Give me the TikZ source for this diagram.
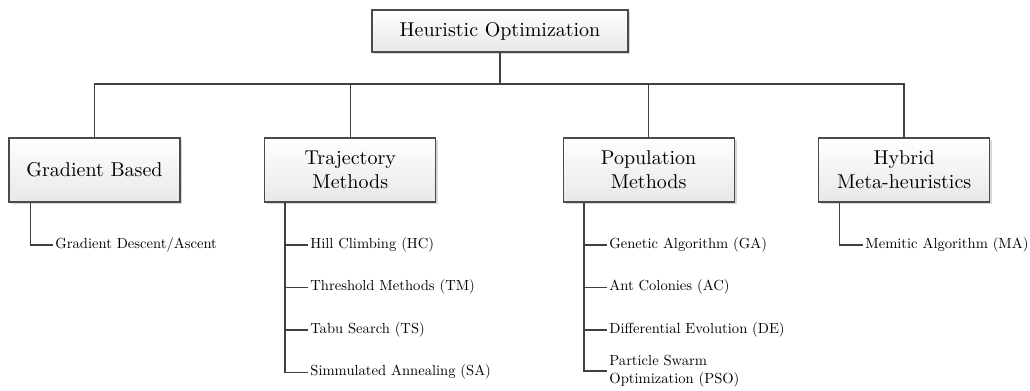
\documentclass[tikz,border=0pt]{standalone}
\usepackage{fontspec}
\usetikzlibrary{shadows}
% small labels keep the 10pt design of Latin Modern, only scaled down
\newfontfamily\itemfont{lmroman10-regular.otf}
\definecolor{linegray}{HTML}{404040}
\definecolor{boxline}{HTML}{4A4A4A}
\begin{document}
\begin{tikzpicture}[x=0.5pt,y=-0.5pt,
  box/.style={draw=boxline, line width=0.6pt, top color=white, bottom color=black!9,
    drop shadow={shadow xshift=1.2pt, shadow yshift=-1.2pt, fill=black!30, opacity=0.5},
    align=center, inner sep=2pt, font=\fontsize{10}{12}\selectfont},
  rootbox/.style={box, minimum width=128pt, minimum height=21pt},
  catbox/.style={box, minimum width=85.5pt, minimum height=32pt},
  item/.style={anchor=west, inner sep=1pt, align=left, font=\itemfont\fontsize{7.3}{9}\selectfont},
  link/.style={draw=linegray, line width=0.75pt}]
\useasboundingbox (0,0) rectangle (1030,391);

% top of the tree
\node[rootbox] (root) at (500,31) {Heuristic Optimization};
\coordinate (bus) at (500,84);

% the four families
\node[catbox] (grad) at (94.5,170) {Gradient Based};
\node[catbox] (traj) at (350.3,170) {Trajectory\\Methods};
\node[catbox] (pop)  at (648.6,170) {Population\\Methods};
\node[catbox] (hyb)  at (904.2,170) {Hybrid\\Meta-heuristics};

\draw[link] (root) -- (bus);
\foreach \n in {grad,traj,pop,hyb}
  \draw[link] (\n.north) |- (bus);

% methods under each family
\node[item] (gd) at (53,245) {Gradient Descent/Ascent};

\node[item] (hc) at (308,245)   {Hill Climbing (HC)};
\node[item] (tm) at (308,287.3) {Threshold Methods (TM)};
\node[item] (ts) at (308,330)   {Tabu Search (TS)};
\node[item] (sa) at (308,372.3) {Simmulated Annealing (SA)};

\node[item] (ga)  at (607,245)   {Genetic Algorithm (GA)};
\node[item] (ac)  at (607,287.3) {Ant Colonies (AC)};
\node[item] (de)  at (607,330)   {Differential Evolution (DE)};
\node[item] (pso) at (607,371)   {Particle Swarm\\Optimization (PSO)};

\node[item] (ma) at (863,245) {Memitic Algorithm (MA)};

\draw[link] ([xshift=11pt]grad.south west) |- (gd.west);
\foreach \m in {hc,tm,ts,sa}
  \draw[link] ([xshift=10.5pt]traj.south west) |- (\m.west);
\foreach \m in {ga,ac,de,pso}
  \draw[link] ([xshift=10.8pt]pop.south west) |- (\m.west);
\draw[link] ([xshift=10.8pt]hyb.south west) |- (ma.west);
\end{tikzpicture}
\end{document}
